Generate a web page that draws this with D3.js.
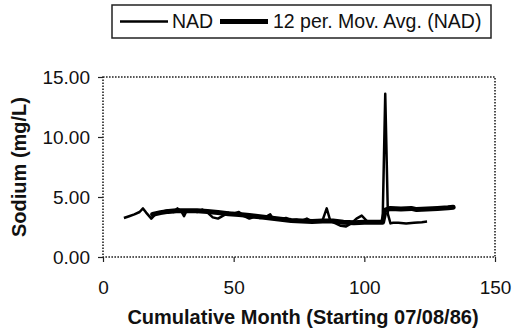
<!DOCTYPE html>
<html><head><meta charset="utf-8">
<script src="https://cdn.jsdelivr.net/npm/d3@7"></script>
<style>body{margin:0;background:#fff}svg{display:block}text{font-family:"Liberation Sans",Arial,sans-serif;fill:#111}</style>
</head><body><svg id="c" width="512" height="336"></svg>
<script>
// NAD monthly sodium (month, mg/L)
const nadMonth = [8,10,12,14,15.3,16.5,18.5,20,21,23,25,27,28.5,30,31,32,34,36,38,40,42,44,46,48,50,52,54,56,58,60,62,64,65,67,70,72,74,76,78,80,82,84,85.6,87,89,91,93,95,97,99,101,103,105,107,108,109,110,111,113,116,119,122,124];
const nadValue = [3.25,3.4,3.55,3.75,4.05,3.7,3.2,3.55,3.65,3.8,3.9,3.75,4.05,3.8,3.4,3.85,3.9,3.75,3.95,3.7,3.3,3.2,3.45,3.7,3.6,3.75,3.4,3.2,3.35,3.25,3.3,3.55,3.2,3.1,3.25,3.05,3.1,3.0,3.2,2.95,3.0,3.05,4.05,3.0,2.8,2.6,2.55,2.8,3.2,3.45,3.0,2.9,2.85,2.9,13.6,3.6,2.8,2.85,2.85,2.8,2.85,2.9,2.95];
// 12 period moving average
const maMonth = [19,22,25,28,32,36,40,44,48,52,56,60,64,68,72,76,80,84,88,92,96,100,104,107,108,110,114,118,120,124,128,132,134];
const maValue = [3.55,3.7,3.8,3.85,3.85,3.85,3.8,3.7,3.6,3.55,3.45,3.35,3.25,3.15,3.05,3.0,2.95,3.0,3.0,2.9,2.85,2.9,2.9,2.9,3.9,4.05,4.0,4.05,3.95,4.0,4.05,4.1,4.15];
const xTicks = [0,50,100,150];
const yTicks = [0,5,10,15];
const legendLabels = ["NAD","12 per. Mov. Avg. (NAD)"];

const svg = d3.select("#c");
const x = d3.scaleLinear().domain([0,150]).range([103,495]);
const y = d3.scaleLinear().domain([0,15]).range([257,77]);

// plot area dotted border
svg.append("rect").attr("x",x(0)).attr("y",y(15)).attr("width",x(150)-x(0)).attr("height",y(0)-y(15))
  .attr("fill","none").attr("stroke","#222").attr("stroke-width",1.6).attr("stroke-dasharray","1.6,1.4");

const fs = 19;
const xa = svg.append("g").attr("transform",`translate(0,${y(0)})`)
  .call(d3.axisBottom(x).tickValues(xTicks).tickSize(5).tickPadding(19).tickFormat(d3.format("d")));
const ya = svg.append("g").attr("transform",`translate(${x(0)},0)`)
  .call(d3.axisLeft(y).tickValues(yTicks).tickSize(5).tickPadding(8).tickFormat(d3.format(".2f")));
[xa,ya].forEach(a=>{a.select(".domain").remove();a.selectAll("line").attr("stroke","#222").attr("stroke-width",1.2);
  a.selectAll("text").attr("font-size",fs).attr("font-family","Liberation Sans, Arial, sans-serif").attr("fill","#111");});

const line = d3.line().x(d=>x(d[0])).y(d=>y(d[1]));
const nad = nadMonth.map((m,i)=>[m,nadValue[i]]);
const ma = maMonth.map((m,i)=>[m,maValue[i]]);
svg.append("path").datum(nad).attr("d",line).attr("fill","none").attr("stroke","#000").attr("stroke-width",2.5).attr("stroke-linejoin","round");
svg.append("path").datum(ma).attr("d",line).attr("fill","none").attr("stroke","#000").attr("stroke-width",5).attr("stroke-linejoin","round").attr("stroke-linecap","round");

// axis titles
svg.append("text").attr("x",(x(0)+x(150))/2+4).attr("y",324).attr("text-anchor","middle")
  .attr("font-size",20).attr("font-weight","bold").text("Cumulative Month (Starting 07/08/86)");
svg.append("text").attr("transform",`translate(26,${(y(0)+y(15))/2}) rotate(-90)`).attr("text-anchor","middle")
  .attr("font-size",20).attr("font-weight","bold").text("Sodium (mg/L)");

// legend
const lg = svg.append("g");
lg.append("rect").attr("x",112).attr("y",5).attr("width",379).attr("height",33).attr("fill","#fff").attr("stroke","#222").attr("stroke-width",1.5);
lg.append("line").attr("x1",120).attr("x2",168).attr("y1",21.5).attr("y2",21.5).attr("stroke","#000").attr("stroke-width",2.5);
lg.append("text").attr("x",172).attr("y",28).attr("font-size",19.5).text(legendLabels[0]);
lg.append("line").attr("x1",220).attr("x2",268).attr("y1",21.5).attr("y2",21.5).attr("stroke","#000").attr("stroke-width",5);
lg.append("text").attr("x",273).attr("y",28).attr("font-size",19.5).text(legendLabels[1]);
</script></body></html>
